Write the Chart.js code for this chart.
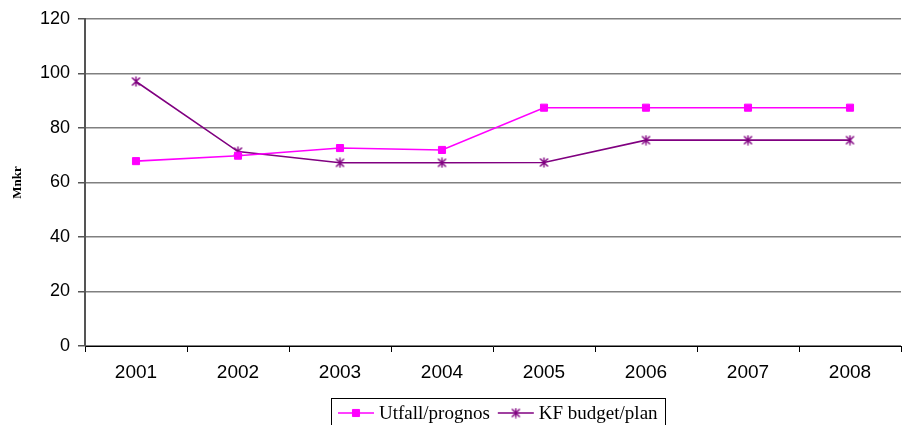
<!DOCTYPE html>
<html>
<head>
<meta charset="utf-8">
<title>Mnkr 2001-2008</title>
<script src="https://cdn.jsdelivr.net/npm/chart.js@4.4.0/dist/chart.umd.min.js"></script>
<style>
  html, body { margin: 0; padding: 0; background: #fff; }
  #wrap { width: 907px; height: 425px; }
</style>
</head>
<body>
<div id="wrap"><canvas id="chart" width="907" height="425"></canvas></div>
<script>
// chart data
const years = ['2001', '2002', '2003', '2004', '2005', '2006', '2007', '2008'];
const utfall = [67.8, 69.8, 72.6, 71.9, 87.4, 87.4, 87.4, 87.4];
const kfBudget = [97.0, 71.3, 67.2, 67.2, 67.3, 75.5, 75.5, 75.5];
const seriesNames = ['Utfall/prognos', 'KF budget/plan'];
const yMin = 0;
const yMax = 120;
const yStep = 20;
const yTitle = 'Mnkr';

const MAGENTA = '#ff00ff';
const PURPLE = '#800080';

// Excel-style asterisk marker: an X with a vertical bar
function asteriskMarker(color) {
    const c = document.createElement('canvas');
    c.width = 11;
    c.height = 11;
    const g = c.getContext('2d');
    g.strokeStyle = color;
    g.lineWidth = 1.4;
    g.beginPath();
    g.moveTo(1.5, 1.5); g.lineTo(9.5, 9.5);
    g.moveTo(9.5, 1.5); g.lineTo(1.5, 9.5);
    g.moveTo(5.5, 0.5); g.lineTo(5.5, 10.5);
    g.stroke();
    return c;
}

// legend drawn as a bordered box under the plot, like the original
const boxLegend = {
    id: 'boxLegend',
    afterDraw(chart) {
        const ctx = chart.ctx;
        const area = chart.chartArea;
        const lineLen = 36, gap = 5, itemGap = 8, padX = 7;
        const top = 398, midY = 413;

        ctx.save();
        ctx.font = '19px "Liberation Serif", "Times New Roman", serif';
        const items = chart.data.datasets.map(ds => ({ ds, w: ctx.measureText(ds.label).width }));
        const total = padX * 2 + items.reduce((s, it) => s + lineLen + gap + it.w, 0) + itemGap * (items.length - 1);
        let x = Math.round((area.left + area.right) / 2 + 5 - total / 2);

        ctx.strokeStyle = '#000';
        ctx.lineWidth = 1;
        ctx.strokeRect(x + 0.5, top + 0.5, Math.round(total), 40);
        x += padX;

        items.forEach(it => {
            const ds = it.ds;
            ctx.strokeStyle = ds.borderColor;
            ctx.lineWidth = ds.borderWidth;
            ctx.beginPath();
            ctx.moveTo(x, midY);
            ctx.lineTo(x + lineLen, midY);
            ctx.stroke();

            ctx.fillStyle = ds.pointBackgroundColor;
            ctx.strokeStyle = ds.pointBorderColor;
            ctx.lineWidth = ds.pointBorderWidth;
            Chart.helpers.drawPoint(ctx, {
                pointStyle: ds.pointStyle,
                radius: ds.pointRadius,
                borderWidth: ds.pointBorderWidth,
                rotation: 0
            }, x + lineLen / 2, midY);

            ctx.fillStyle = '#000';
            ctx.textBaseline = 'middle';
            ctx.textAlign = 'left';
            ctx.fillText(ds.label, x + lineLen + gap, midY + 1);
            x += lineLen + gap + it.w + itemGap;
        });
        ctx.restore();
    }
};

const ctx = document.getElementById('chart').getContext('2d');
new Chart(ctx, {
    type: 'line',
    data: {
        labels: years,
        datasets: [
            {
                label: seriesNames[0],
                data: utfall,
                borderColor: MAGENTA,
                borderWidth: 1.6,
                pointStyle: 'rect',
                pointRadius: 5,
                pointBackgroundColor: MAGENTA,
                pointBorderColor: MAGENTA,
                pointBorderWidth: 1,
                tension: 0
            },
            {
                label: seriesNames[1],
                data: kfBudget,
                borderColor: PURPLE,
                borderWidth: 1.6,
                pointStyle: asteriskMarker(PURPLE),
                pointRadius: 5,
                pointBackgroundColor: PURPLE,
                pointBorderColor: PURPLE,
                pointBorderWidth: 1,
                tension: 0
            }
        ]
    },
    options: {
        responsive: false,
        animation: false,
        devicePixelRatio: 1,
        layout: {
            padding: { top: 16, right: 0, bottom: 27, left: 0 }
        },
        plugins: {
            legend: { display: false },
            tooltip: { enabled: false }
        },
        scales: {
            x: {
                offset: true,
                grid: {
                    offset: true,
                    drawOnChartArea: false,
                    drawTicks: true,
                    tickLength: 6,
                    color: '#000'
                },
                border: { color: '#000', width: 1 },
                ticks: {
                    color: '#000',
                    padding: 9,
                    font: { family: '"Liberation Sans", Arial, sans-serif', size: 19 }
                },
                afterFit(scale) { scale.height = 52; }
            },
            y: {
                min: yMin,
                max: yMax,
                ticks: {
                    stepSize: yStep,
                    color: '#000',
                    padding: 8,
                    font: { family: '"Liberation Sans", Arial, sans-serif', size: 18 }
                },
                grid: {
                    color: '#808080',
                    lineWidth: 1.5,
                    tickLength: 7,
                    tickColor: '#555'
                },
                border: { color: '#555', width: 2 },
                title: {
                    display: true,
                    text: yTitle,
                    color: '#000',
                    padding: { top: 10, bottom: 0 },
                    font: { family: '"Liberation Serif", "Times New Roman", serif', size: 13, weight: 'bold' }
                },
                afterFit(scale) { scale.width = 85; }
            }
        }
    },
    plugins: [boxLegend]
});
</script>
</body>
</html>
